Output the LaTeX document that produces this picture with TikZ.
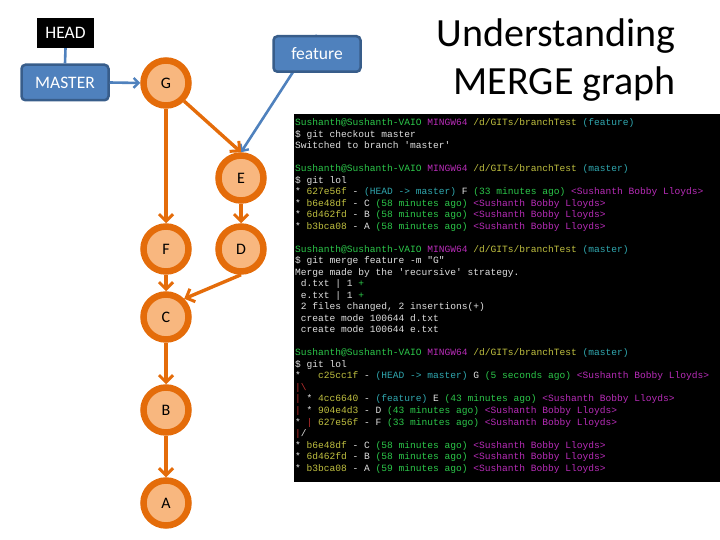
\documentclass[tikz,border=0pt]{standalone}
\usepackage{fontspec}
\setmainfont{Carlito}
\newfontfamily\termfont{Liberation Mono}
\usetikzlibrary{arrows.meta,backgrounds}
\definecolor{commitline}{HTML}{E46C0A}
\definecolor{commitfill}{HTML}{F8B77F}
\definecolor{reffill}{HTML}{4F81BD}
\definecolor{refline}{HTML}{385D8A}
\definecolor{termgreen}{HTML}{2CC84A}
\definecolor{termpink}{HTML}{B82CB8}
\definecolor{termyellow}{HTML}{C0C040}
\definecolor{termcyan}{HTML}{30A8B0}
\definecolor{termred}{HTML}{C03030}
\tikzset{
  commit/.style={circle,draw=commitline,fill=commitfill,line width=6.5pt,minimum size=45pt,inner sep=0pt,font=\fontsize{16}{20}\selectfont},
  ref/.style={draw=refline,fill=reffill,text=white,line width=2.5pt,rounded corners=4pt,minimum width=87pt,minimum height=35.5pt,inner sep=0pt,font=\fontsize{17.5}{20}\selectfont},
  history/.style={commitline,line width=3.4pt,-{Straight Barb[length=7pt,width=14pt,line width=3pt]}},
  pointer/.style={reffill,line width=2.6pt,-{Straight Barb[length=5pt,width=10pt,line width=2.4pt]}},
  termtext/.style={anchor=base west,inner sep=0pt,text=white!88!black,font=\termfont\fontsize{9.58}{11}\selectfont\frenchspacing}
}
\newcommand\DrawCommit[3]{
  \node[commit] (#1) at (#2,#3) {#1};
}
\newcommand\TermLine[2]{
  \node[termtext] (term#1) at (295,{125.5+11.52*#1}) {#2};
}
\newcommand\PromptLine[2]{
  \TermLine{#1}{\textcolor{termgreen}{Sushanth@Sushanth-VAIO} \textcolor{termpink}{MINGW64} \textcolor{termyellow}{/d/GITs/branchTest} \textcolor{termcyan}{(#2)}}
}
\newcommand\LogLine[4]{
  \TermLine{#1}{* \textcolor{termyellow}{#2} - #3 \textcolor{termgreen}{(#4 ago)} \textcolor{termpink}{<Sushanth Bobby Lloyds>}}
}
\begin{document}
\begin{tikzpicture}[x=1pt,y=-1pt]
\useasboundingbox (0,0) rectangle (720,540);
\fill[black] (294,114) rectangle (720,482);
% commit graph
\DrawCommit{G}{166}{83}
\DrawCommit{E}{241}{178}
\DrawCommit{F}{166}{249}
\DrawCommit{D}{241}{249}
\DrawCommit{C}{166}{317}
\DrawCommit{B}{166}{410}
\DrawCommit{A}{166}{503}
\node[fill=black,text=white,minimum width=57pt,minimum height=30pt,inner sep=0pt,font=\fontsize{17.5}{20}\selectfont] (head) at (65.5,33) {HEAD};
\node[ref] (master) at (65,82.5) {MASTER};
\node[ref] (feature) at (317,54) {feature};
\node[anchor=east,inner sep=0pt,align=right,font=\fontsize{40}{48}\selectfont] (title) at (676,60) {Understanding\\MERGE graph};
\draw[history] (G.south) -- (F.north);
\draw[history] (G.south east) -- (E.north);
\draw[history] (E.south) -- (D.north);
\draw[history] (F.south) -- (C.north);
\draw[history] (D.south) -- (C.north east);
\draw[history] (C.south) -- (B.north);
\draw[history] (B.south) -- (A.north);
\draw[reffill,line width=2.6pt] (head.south) -- (master.north);
\draw[pointer] (master.east) -- (G.west);
\begin{scope}[on background layer]
\draw[pointer] (feature.north) -- (E.north);
\end{scope}
% terminal
\PromptLine{0}{feature}
\TermLine{1}{\$ git checkout master}
\TermLine{2}{Switched to branch 'master'}
\PromptLine{4}{master}
\TermLine{5}{\$ git lol}
\TermLine{6}{* \textcolor{termyellow}{627e56f} - \textcolor{termcyan}{(HEAD -> master)} F \textcolor{termgreen}{(33 minutes ago)} \textcolor{termpink}{<Sushanth Bobby Lloyds>}}
\LogLine{7}{b6e48df}{C}{58 minutes}
\LogLine{8}{6d462fd}{B}{58 minutes}
\LogLine{9}{b3bca08}{A}{58 minutes}
\PromptLine{11}{master}
\TermLine{12}{\$ git merge feature -m "G"}
\TermLine{13}{Merge made by the 'recursive' strategy.}
\TermLine{14}{~d.txt | 1 \textcolor{termgreen}{+}}
\TermLine{15}{~e.txt | 1 \textcolor{termgreen}{+}}
\TermLine{16}{~2 files changed, 2 insertions(+)}
\TermLine{17}{~create mode 100644 d.txt}
\TermLine{18}{~create mode 100644 e.txt}
\PromptLine{20}{master}
\TermLine{21}{\$ git lol}
\TermLine{22}{*~~~\textcolor{termyellow}{c25cc1f} - \textcolor{termcyan}{(HEAD -> master)} G \textcolor{termgreen}{(5 seconds ago)} \textcolor{termpink}{<Sushanth Bobby Lloyds>}}
\TermLine{23}{\textcolor{termred}{|\textbackslash}}
\TermLine{24}{\textcolor{termred}{|} * \textcolor{termyellow}{4cc6640} - \textcolor{termcyan}{(feature)} E \textcolor{termgreen}{(43 minutes ago)} \textcolor{termpink}{<Sushanth Bobby Lloyds>}}
\TermLine{25}{\textcolor{termred}{|} * \textcolor{termyellow}{904e4d3} - D \textcolor{termgreen}{(43 minutes ago)} \textcolor{termpink}{<Sushanth Bobby Lloyds>}}
\TermLine{26}{* \textcolor{termred}{|} \textcolor{termyellow}{627e56f} - F \textcolor{termgreen}{(33 minutes ago)} \textcolor{termpink}{<Sushanth Bobby Lloyds>}}
\TermLine{27}{\textcolor{termred}{|}/}
\LogLine{28}{b6e48df}{C}{58 minutes}
\LogLine{29}{6d462fd}{B}{58 minutes}
\LogLine{30}{b3bca08}{A}{59 minutes}
\end{tikzpicture}
\end{document}
